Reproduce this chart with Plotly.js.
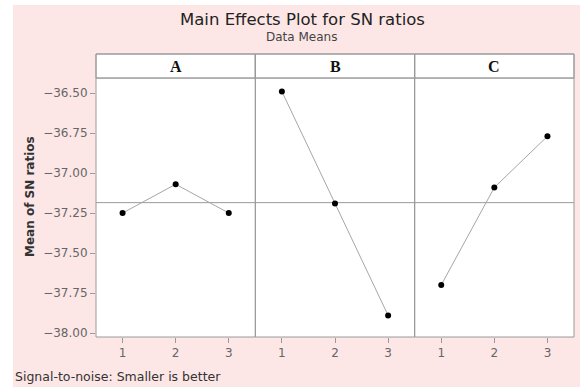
<!DOCTYPE html>
<html><head><meta charset="utf-8">
<script src="https://cdn.plot.ly/plotly-3.0.1.min.js"></script>
<style>
html,body{margin:0;padding:0;background:#ffffff;}
#chart{position:absolute;left:13px;top:5px;width:567px;height:382px;}
</style></head>
<body><div id="chart"></div>
<script>
const levels = [1, 2, 3];
const factorNames = ["A", "B", "C"];
const meanA = [-37.25, -37.07, -37.25];
const meanB = [-36.49, -37.19, -37.89];
const meanC = [-37.70, -37.09, -36.77];
const grandMean = -37.185;
const yTicks = [-36.50, -36.75, -37.00, -37.25, -37.50, -37.75, -38.00];

const series = [meanA, meanB, meanC];
const axisIds = ["", "2", "3"];
const dataTop = 0.915;
const lineGray = "#a6a6a6";
const frameGray = "#9a9a9a";
const tickFont = {family: "DejaVu Sans, Arial, sans-serif", size: 12, color: "#666666"};

const traces = series.map((vals, i) => ({
  x: levels, y: vals, type: "scatter", mode: "lines+markers",
  xaxis: "x" + axisIds[i], yaxis: "y" + axisIds[i],
  line: {color: lineGray, width: 1},
  marker: {color: "#000000", size: 6},
  hoverinfo: "skip", showlegend: false
}));

const plotW = 567 - 83 - 6, plotH = 382 - 49 - 50;
function px2x(px){ return (px - 13 - 83) / plotW; }
function py2y(py){ return 1 - (py - 5 - 49) / plotH; }

const layout = {
  width: 567, height: 382,
  margin: {l: 83, r: 6, t: 49, b: 50},
  paper_bgcolor: "#fde7e6",
  plot_bgcolor: "#ffffff",
  showlegend: false,
  shapes: [],
  annotations: []
};

for (let i = 0; i < 3; i++) {
  const d0 = i / 3, d1 = (i + 1) / 3;
  const xa = "xaxis" + axisIds[i], ya = "yaxis" + axisIds[i];
  layout[xa] = {
    domain: [d0, d1], range: [0.5, 3.5], tickvals: levels, ticktext: levels.map(String),
    ticks: "outside", ticklen: 5, tickcolor: frameGray, tickfont: tickFont,
    showgrid: false, zeroline: false, showline: false, fixedrange: true,
    anchor: "y" + axisIds[i]
  };
  layout[ya] = {
    domain: [0, dataTop], range: [-38.025, -36.406],
    tickvals: yTicks, tickformat: ".2f",
    showticklabels: i === 0, ticks: i === 0 ? "outside" : "", ticklen: 5,
    tickcolor: frameGray, tickfont: tickFont,
    showgrid: false, zeroline: false, showline: false, fixedrange: true,
    anchor: "x" + axisIds[i]
  };
  if (i > 0) layout[ya].matches = "y";
  layout.shapes.push({type: "rect", xref: "paper", yref: "paper", x0: d0, x1: d1, y0: dataTop, y1: 1,
    fillcolor: "#ffffff", line: {color: frameGray, width: 1}, layer: "below"});
  layout.shapes.push({type: "rect", xref: "paper", yref: "paper", x0: d0, x1: d1, y0: 0, y1: 1,
    line: {color: frameGray, width: 1}, layer: "above"});
  layout.annotations.push({xref: "paper", yref: "paper", x: (d0 + d1) / 2, y: (dataTop + 1) / 2,
    text: "<b>" + factorNames[i] + "</b>", showarrow: false, xanchor: "center", yanchor: "middle",
    font: {family: "Liberation Serif, Times New Roman, serif", size: 16, color: "#111111"}});
}
layout.shapes.push({type: "line", xref: "paper", yref: "paper", x0: 0, x1: 1, y0: dataTop, y1: dataTop,
  line: {color: frameGray, width: 1}, layer: "above"});
layout.shapes.push({type: "line", xref: "paper", yref: "y", x0: 0, x1: 1, y0: grandMean, y1: grandMean,
  line: {color: frameGray, width: 1}, layer: "below"});

layout.annotations.push(
  {xref: "paper", yref: "paper", x: px2x(30), y: py2y(197), text: "<b>Mean of SN ratios</b>", textangle: -90,
   showarrow: false, xanchor: "center", yanchor: "middle",
   font: {family: "DejaVu Sans, Arial, sans-serif", size: 12, color: "#333333"}},
  {xref: "paper", yref: "paper", x: px2x(302), y: py2y(19), text: "Main Effects Plot for SN ratios",
   showarrow: false, xanchor: "center", yanchor: "middle",
   font: {family: "DejaVu Sans, Arial, sans-serif", size: 16.5, color: "#222222"}},
  {xref: "paper", yref: "paper", x: px2x(301), y: py2y(37), text: "Data Means",
   showarrow: false, xanchor: "center", yanchor: "middle",
   font: {family: "DejaVu Sans, Arial, sans-serif", size: 12, color: "#444444"}},
  {xref: "paper", yref: "paper", x: px2x(13), y: py2y(377),
   text: "Signal-to-noise: Smaller is better", showarrow: false, xanchor: "left", yanchor: "middle",
   font: {family: "DejaVu Sans, Arial, sans-serif", size: 12.5, color: "#333333"}}
);

Plotly.newPlot("chart", traces, layout, {staticPlot: true, displayModeBar: false});
</script></body></html>
